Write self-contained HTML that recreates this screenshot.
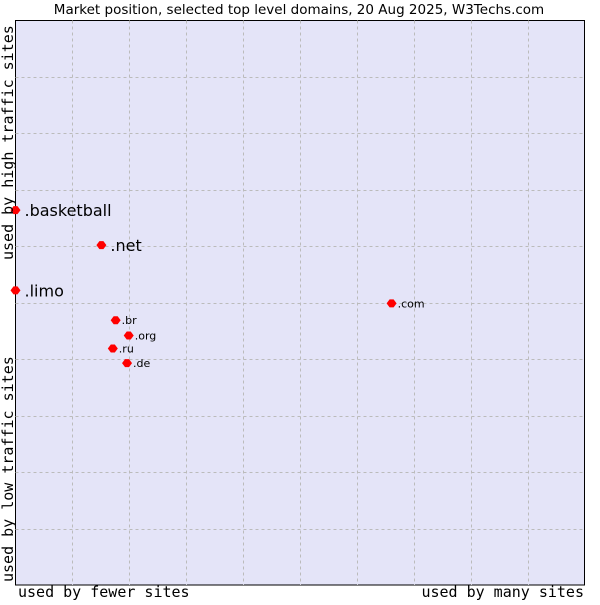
<!DOCTYPE html>
<html><head><meta charset="utf-8"><style>
body{margin:0;background:#fff;width:600px;height:600px;overflow:hidden}
</style></head><body>
<svg id="chart" width="600" height="600" xmlns="http://www.w3.org/2000/svg">
<text x="299" y="14" text-anchor="middle" font-family="DejaVu Sans, sans-serif" font-size="13.5" fill="#000">Market position, selected top level domains, 20 Aug 2025, W3Techs.com</text>
<rect x="15.5" y="20.5" width="569" height="564.5" fill="#e4e4f8" stroke="#000" stroke-width="1"/>
<g id="grid"></g>
<g id="points"></g>
<text x="18" y="597" font-family="DejaVu Sans Mono, monospace" font-size="15">used by fewer sites</text>
<text x="584" y="597" text-anchor="end" font-family="DejaVu Sans Mono, monospace" font-size="15">used by many sites</text>
<text transform="translate(13,582) rotate(-90)" font-family="DejaVu Sans Mono, monospace" font-size="15">used by low traffic sites</text>
<text transform="translate(13,260) rotate(-90)" font-family="DejaVu Sans Mono, monospace" font-size="15">used by high traffic sites</text>
</svg>
<script>
const domains = [".basketball", ".net", ".limo", ".com", ".br", ".org", ".ru", ".de"];
const xValues = [0, 1.51, 0, 6.61, 1.76, 1.99, 1.71, 1.96];
const yValues = [6.64, 6.02, 5.22, 4.99, 4.69, 4.42, 4.19, 3.93];
const largeLabel = [true, true, true, false, false, false, false, false];
const X0=15.5, Y0=20.5, W=569, H=564.5;
function sx(v){return X0 + v/10*W;}
function sy(v){return Y0 + H - v/10*H;}
const NS="http://www.w3.org/2000/svg";
const grid=document.getElementById('grid');
for(let i=1;i<10;i++){
  const v=document.createElementNS(NS,'line');
  v.setAttribute('x1',Math.round(sx(i))+0.5);v.setAttribute('x2',Math.round(sx(i))+0.5);
  v.setAttribute('y1',Y0);v.setAttribute('y2',Y0+H);
  v.setAttribute('stroke','#bbb');v.setAttribute('stroke-dasharray','3,3');
  
  
  grid.appendChild(v);
  const h=document.createElementNS(NS,'line');
  h.setAttribute('y1',Math.round(sy(i))+0.5);h.setAttribute('y2',Math.round(sy(i))+0.5);
  h.setAttribute('x1',X0);h.setAttribute('x2',X0+W);
  h.setAttribute('stroke','#bbb');h.setAttribute('stroke-dasharray','3,3');
  
  
  grid.appendChild(h);
}
const pts=document.getElementById('points');
domains.forEach((d,i)=>{
  const x=sx(xValues[i]), y=sy(yValues[i]);
  const p=document.createElementNS(NS,'polygon');
  p.setAttribute('points',`${x-5},${y} ${x-2},${y-4} ${x+2},${y-4} ${x+5},${y} ${x+2},${y+4} ${x-2},${y+4}`);
  p.setAttribute('fill','#f00');
  
  
  pts.appendChild(p);
  const t=document.createElementNS(NS,'text');
  t.setAttribute('x',x+(largeLabel[i]?9:6));
  t.setAttribute('y',y+(largeLabel[i]?6:4));
  t.setAttribute('font-family','DejaVu Sans, sans-serif');
  t.setAttribute('font-size',largeLabel[i]?'16':'11');
  t.textContent=d;
  
  
  pts.appendChild(t);
});
</script>
</body></html>
